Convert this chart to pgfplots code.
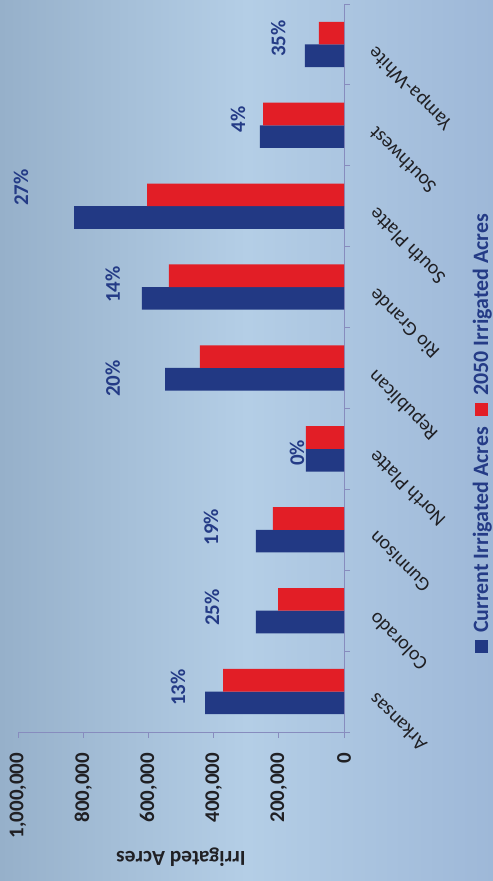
\documentclass[border=0pt]{standalone}
\usepackage{fontspec}
\setmainfont{Carlito}
\usepackage{pgfplots}
\pgfplotsset{compat=1.18}

\definecolor{curblue}{RGB}{34,57,132}
\definecolor{newred}{RGB}{226,30,38}
\definecolor{axisline}{RGB}{135,140,190}
\definecolor{lblblue}{RGB}{36,59,134}
\definecolor{lbldark}{RGB}{32,32,36}
\definecolor{bgleft}{RGB}{150,176,202}
\definecolor{bgmid}{RGB}{180,206,230}
\definecolor{bgright}{RGB}{158,184,216}

\begin{document}
\begin{tikzpicture}[x=1bp,y=1bp]
\path[use as bounding box] (0,0) rectangle (493,881);
\shade[left color=bgleft, right color=bgright, middle color=bgmid] (0,0) rectangle (493,881);
\begin{axis}[
  at={(18bp,149bp)}, anchor=south west,
  scale only axis, width=326bp, height=728bp,
  clip=false,
  x dir=reverse,
  xmin=0, xmax=1000000, ymin=-0.5, ymax=8.5,
  axis x line*=bottom, axis y line*=right,
  axis line style={draw=axisline, line width=0.8bp, -},
  tick align=outside,
  major tick length=6bp, minor tick length=6bp,
  tick style={draw=axisline, line width=0.8bp},
  xtick={0,200000,400000,600000,800000,1000000},
  xticklabels={0,{200,000},{400,000},{600,000},{800,000},{1,000,000}},
  scaled x ticks=false,
  xticklabel style={font=\fontsize{21}{24}\selectfont\bfseries, text=lbldark,
    inner sep=0pt, yshift=-15bp, rotate=90, anchor=east},
  ytick={0,...,8},
  yticklabels={Arkansas,Colorado,Gunnison,North Platte,Republican,Rio Grande,South Platte,Southwest,Yampa-White},
  yticklabel pos=right,
  minor ytick={-0.5,0.5,...,8.5},
  major y tick style={draw=none},
  yticklabel style={font=\fontsize{20}{24}\selectfont, text=lbldark,
    inner sep=0pt, xshift=22bp, yshift=-5bp, rotate=135, anchor=east},
  xlabel={Irrigated Acres},
  xlabel style={at={(axis description cs:0.5,-0.1717)}, anchor=center, rotate=180,
    font=\fontsize{21.5}{24}\selectfont\bfseries, text=lbldark},
]
\addplot[xbar, bar width=0.28, bar shift=-0.14, fill=curblue, draw=none]
  coordinates {(426000,0) (270000,1) (270000,2) (117000,3) (549000,4) (620000,5) (828000,6) (258000,7) (120000,8)};
\addplot[xbar, bar width=0.28, bar shift=0.14, fill=newred, draw=none]
  coordinates {(371000,0) (202000,1) (218000,2) (117000,3) (442000,4) (537000,5) (604000,6) (248000,7) (77000,8)};
\addplot[draw=none, nodes near coords, point meta=explicit symbolic,
  every node near coord/.append style={anchor=center, rotate=90,
    font=\fontsize{21}{24}\selectfont\bfseries, text=lblblue}]
  coordinates {(509000,0.05) [13\%] (405000,1.04) [25\%] (408000,2.03) [19\%]
    (144000,2.95) [0\%] (709000,3.87) [20\%] (709000,5.03) [14\%]
    (991000,6.23) [27\%] (325000,7.07) [4\%] (202000,8.07) [35\%]};
% legend, set upright along the right edge as in the rotated original
\node[rotate=90, anchor=base, inner sep=0pt, font=\fontsize{22}{24}\selectfont\bfseries, text=lblblue]
  at (axis description cs:1.4417,0.41)
  {\textcolor{curblue}{\rule{13bp}{13bp}}\hspace{7bp}Current Irrigated Acres\hspace{11bp}\textcolor{newred}{\rule{13bp}{13bp}}\hspace{7bp}2050 Irrigated Acres};
\end{axis}
\end{tikzpicture}
\end{document}
